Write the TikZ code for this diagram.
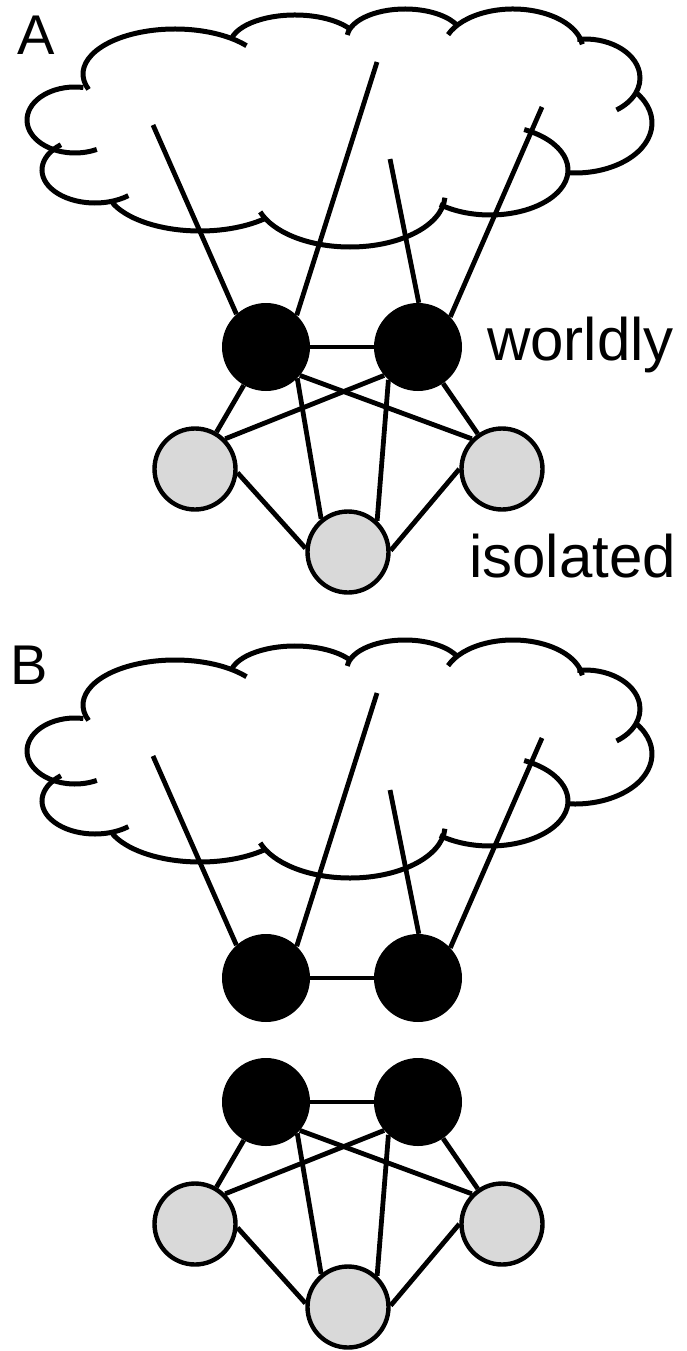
\documentclass[tikz,border=0pt]{standalone}
\usepackage{fontspec}
\setmainfont{Liberation Sans}
\begin{document}
\begin{tikzpicture}[x=1pt,y=1pt,yscale=-1,
  cloudline/.style={line width=5pt},
  link/.style={line width=4.8pt},
  hub/.style={circle,fill=black,draw=none,minimum size=88pt,inner sep=0pt},
  leaf/.style={circle,draw=black,line width=4.4pt,fill=gray!30,minimum size=81pt,inner sep=0pt},
  panel/.style={inner sep=0pt,anchor=base west,font=\fontsize{56}{64}\selectfont},
  word/.style={inner sep=0pt,anchor=base west,font=\fontsize{60}{70}\selectfont}]

\useasboundingbox (0,0) rectangle (686,1351);

% one lobe of the cloud: centre x, centre y, x radius, y radius, start, end
\newcommand\lobe[6]{\draw[cloudline] (#1,#2) ++(#5:#3 and #4)
  arc[start angle=#5,end angle=#6,x radius=#3,y radius=#4];}

% the cloud outline and the four points where its links start
\newcommand\drawcloud[1]{%
  \lobe{175}{74}{92}{45}{160}{321}
  \lobe{295}{45}{65}{30}{194}{328}
  \lobe{405}{38}{58}{29}{186}{336}
  \lobe{513}{50}{70}{41}{202}{352}
  \lobe{585}{78}{55}{39}{262}{415}
  \lobe{575}{123}{77}{50}{323}{455}
  \lobe{490}{170}{78}{45}{296}{490}
  \lobe{350}{195}{95}{52}{3}{161}
  \lobe{200}{185}{95}{46}{157}{47}
  \lobe{95}{170}{53}{33}{230}{51}
  \lobe{75}{120}{48}{33}{280}{63}
  \coordinate (#1s1) at (153,125);
  \coordinate (#1s2) at (377,62);
  \coordinate (#1s3) at (390,159);
  \coordinate (#1s4) at (542,107);}

% the two worldly hubs and their link
\newcommand\drawpair[1]{%
  \node[hub] (#1l) at (266,347) {};
  \node[hub] (#1r) at (418,347) {};
  \draw[link] (#1l) -- (#1r);}

% links from the cloud to a pair of hubs
\newcommand\drawfeeds[2]{%
  \draw[link] (#1s1) -- (#2l.132);
  \draw[link] (#1s2) -- (#2l.46);
  \draw[link] (#1s3) -- (#2r.89);
  \draw[link] (#1s4) -- (#2r.43);}

% the three isolated nodes and their links to the hubs
\newcommand\drawfringe[1]{%
  \node[leaf] (#1gl) at (195,469) {};
  \node[leaf] (#1gr) at (502,469) {};
  \node[leaf] (#1gb) at (348,552) {};
  \draw[link] (#1l) -- (#1gl);
  \draw[link] (#1l.-40) -- (#1gr.135);
  \draw[link] (#1r.220) -- (#1gl.45);
  \draw[link] (#1l.-45) -- (#1gb.129);
  \draw[link] (#1r.228) -- (#1gb.47);
  \draw[link] (#1r) -- (#1gr);
  \draw[link] (#1gl.-5) -- (#1gb.175);
  \draw[link] (#1gr.180) -- (#1gb.2);}

% panel A
\drawcloud{A}
\drawpair{A}
\drawfeeds{A}{A}
\drawfringe{A}
\node[panel] (labA) at (17,55) {A};
\node[word] (worldly) at (487,360) {worldly};
\node[word] (isolated) at (469,577) {isolated};

% panel B: the cloud with its own hubs
\begin{scope}[shift={(0,631)}]
  \drawcloud{B}
  \drawpair{Bt}
  \drawfeeds{B}{Bt}
\end{scope}
% panel B: the separate group below
\begin{scope}[shift={(0,755)}]
  \drawpair{Bb}
  \drawfringe{Bb}
\end{scope}
\node[panel] (labB) at (10,684) {B};
\end{tikzpicture}
\end{document}
